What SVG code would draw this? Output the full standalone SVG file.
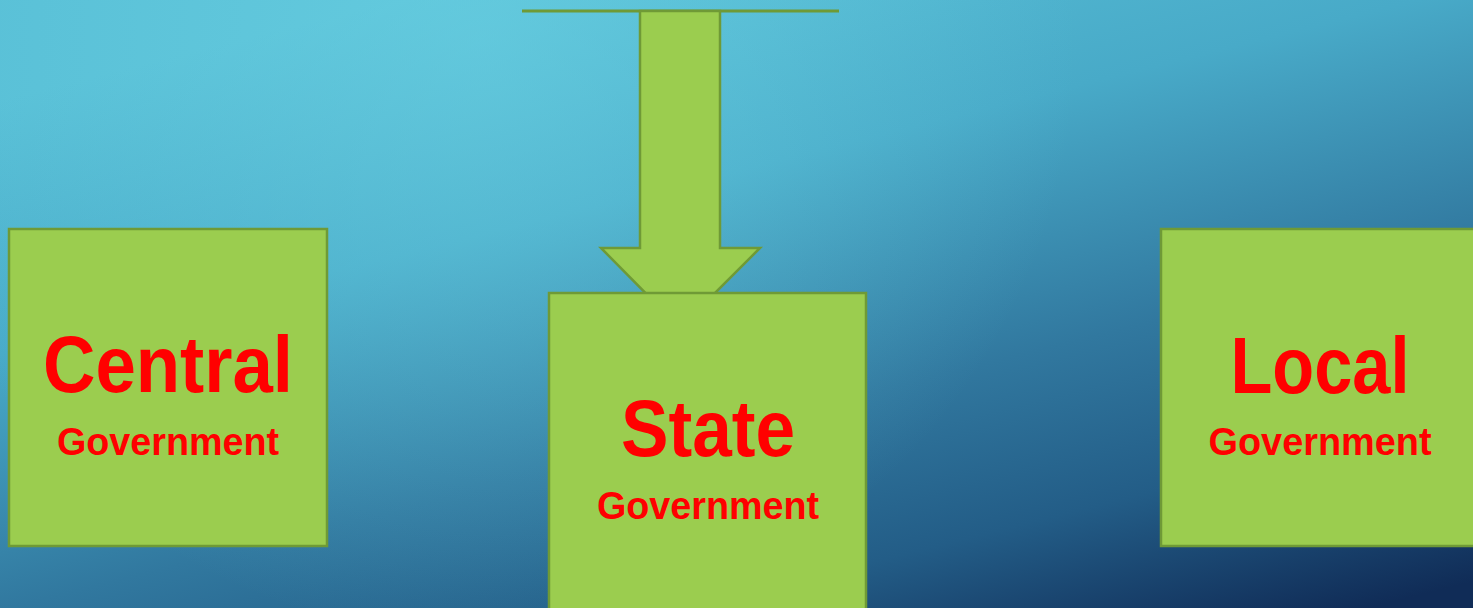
<svg xmlns="http://www.w3.org/2000/svg" width="1473" height="608" viewBox="0 0 1473 608">
<defs>
<linearGradient id="bg" x1="400" y1="0" x2="600" y2="800" gradientUnits="userSpaceOnUse">
<stop offset="0" stop-color="#58BFD6"/>
<stop offset="0.3" stop-color="#48AAC8"/>
<stop offset="0.6" stop-color="#31789F"/>
<stop offset="0.8" stop-color="#235D87"/>
<stop offset="1" stop-color="#102C57"/>
</linearGradient>
<radialGradient id="hl" cx="480" cy="40" r="600" gradientUnits="userSpaceOnUse">
<stop offset="0" stop-color="#6FD6E6" stop-opacity="0.5"/>
<stop offset="1" stop-color="#6FD6E6" stop-opacity="0"/>
</radialGradient>
<style>
.box{fill:#9BCD4F;stroke:#6F9A36;stroke-width:2.5}
.big{font-family:"Liberation Sans",Arial,sans-serif;font-weight:bold;fill:#FF0000;font-size:80px}
.small{font-family:"Liberation Sans",Arial,sans-serif;font-weight:bold;fill:#FF0000;font-size:39px}
</style>
</defs>
<rect x="0" y="0" width="1473" height="608" fill="url(#bg)"/>
<rect x="0" y="0" width="1473" height="608" fill="url(#hl)"/>
<g id="connectors">
<line x1="522" y1="11" x2="839" y2="11" stroke="#6F9A36" stroke-width="3"/>
<path d="M640,11 L720,11 L720,248 L760,248 L680,328 L601,248 L640,248 Z" class="box"/>
</g>
<g id="central">
<rect class="box" x="9" y="229" width="318" height="317"/>
<text class="big" x="168" y="392" text-anchor="middle" textLength="250" lengthAdjust="spacingAndGlyphs">Central</text>
<text class="small" x="168" y="455" text-anchor="middle" textLength="222" lengthAdjust="spacingAndGlyphs">Government</text>
</g>
<g id="state">
<rect class="box" x="549" y="293" width="317" height="330"/>
<text class="big" x="708" y="456" text-anchor="middle" textLength="174" lengthAdjust="spacingAndGlyphs">State</text>
<text class="small" x="708" y="519" text-anchor="middle" textLength="222" lengthAdjust="spacingAndGlyphs">Government</text>
</g>
<g id="local">
<rect class="box" x="1161" y="229" width="330" height="317"/>
<text class="big" x="1320" y="393" text-anchor="middle" textLength="179" lengthAdjust="spacingAndGlyphs">Local</text>
<text class="small" x="1320" y="455" text-anchor="middle" textLength="223" lengthAdjust="spacingAndGlyphs">Government</text>
</g>
</svg>
